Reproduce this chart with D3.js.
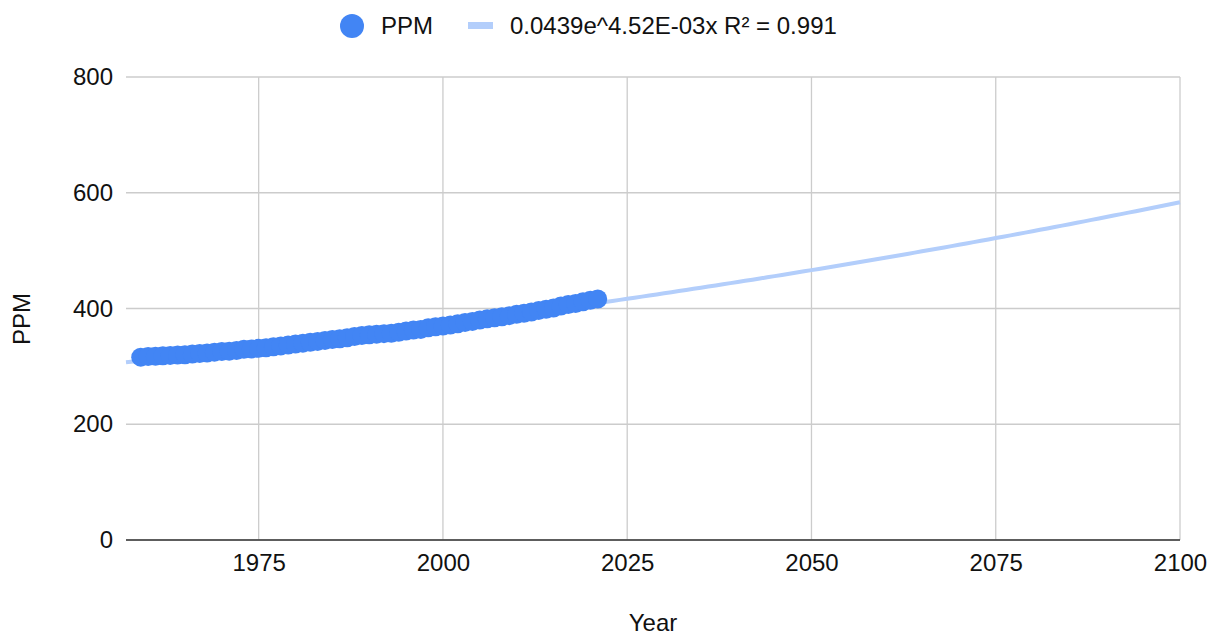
<!DOCTYPE html>
<html>
<head>
<meta charset="utf-8">
<script src="https://cdn.jsdelivr.net/npm/d3@7"></script>
<style>
  body { margin: 0; background: #fff; }
  text { font-family: "Liberation Sans", Arial, sans-serif; fill: #111; }
</style>
</head>
<body>
<div class="canvas"></div>
<script>
// annual mean CO2 (ppm)
const years = d3.range(1959, 2022);
const ppm = [
  315.98, 316.91, 317.64, 318.45, 318.99, 319.62, 320.04, 321.37, 322.18, 323.05,
  324.62, 325.68, 326.32, 327.46, 329.68, 330.19, 331.12, 332.03, 333.84, 335.41,
  336.84, 338.76, 340.12, 341.48, 343.15, 344.87, 346.35, 347.61, 349.31, 351.69,
  353.20, 354.45, 355.70, 356.54, 357.21, 358.96, 360.97, 362.74, 363.88, 366.84,
  368.54, 369.71, 371.32, 373.45, 375.98, 377.70, 379.98, 382.09, 384.02, 385.83,
  387.64, 390.10, 391.85, 394.06, 396.74, 398.81, 401.01, 404.41, 406.76, 408.72,
  411.66, 414.24, 416.45
];
const xTicks = [1975, 2000, 2025, 2050, 2075, 2100];
const yTicks = [0, 200, 400, 600, 800];
const seriesName = 'PPM';
const trendLabel = '0.0439e^4.52E-03x R² = 0.991';

const data = years.map((y, i) => ({ year: y, ppm: ppm[i] }));

const width = 1216, height = 637;
const margin = { top: 77, right: 36, bottom: 97, left: 126 };

const svg = d3.select('.canvas')
    .append('svg')
    .attr('width', width)
    .attr('height', height);

const x = d3.scaleLinear()
    .domain([1957, 2100])
    .range([margin.left, width - margin.right]);

const y = d3.scaleLinear()
    .domain([0, 800])
    .range([height - margin.bottom, margin.top]);

// gridlines
svg.append('g')
    .selectAll('line.h')
    .data(yTicks)
    .join('line')
    .attr('x1', x.range()[0]).attr('x2', x.range()[1])
    .attr('y1', d => y(d)).attr('y2', d => y(d))
    .attr('stroke', '#cccccc').attr('stroke-width', 1.3);

svg.append('g')
    .selectAll('line.v')
    .data(xTicks)
    .join('line')
    .attr('x1', d => x(d)).attr('x2', d => x(d))
    .attr('y1', y.range()[0]).attr('y2', y.range()[1])
    .attr('stroke', '#cccccc').attr('stroke-width', 1.3);

// baseline
svg.append('line')
    .attr('x1', x.range()[0]).attr('x2', x.range()[1])
    .attr('y1', y(0)).attr('y2', y(0))
    .attr('stroke', '#333').attr('stroke-width', 1.6);

// axes (labels only)
const yAxis = svg.append('g')
    .attr('transform', `translate(${margin.left - 13},0)`)
    .call(d3.axisLeft(y).tickValues(yTicks).tickSize(0).tickPadding(0));
yAxis.select('.domain').remove();
yAxis.selectAll('text')
    .attr('font-size', 24)
    .attr('font-family', '"Liberation Sans", Arial, sans-serif')
    .attr('fill', '#111');

const xAxis = svg.append('g')
    .attr('transform', `translate(0,${y(0) + 14})`)
    .call(d3.axisBottom(x).tickValues(xTicks).tickFormat(d3.format('d')).tickSize(0).tickPadding(0));
xAxis.select('.domain').remove();
xAxis.selectAll('text')
    .attr('font-size', 24)
    .attr('font-family', '"Liberation Sans", Arial, sans-serif')
    .attr('fill', '#111');

// exponential trendline, fitted on ln(ppm)
const mx = d3.mean(data, d => d.year);
const my = d3.mean(data, d => Math.log(d.ppm));
const b = d3.sum(data, d => (d.year - mx) * (Math.log(d.ppm) - my)) /
          d3.sum(data, d => (d.year - mx) ** 2);
const a = Math.exp(my - b * mx);
const trendPts = d3.range(x.domain()[0], x.domain()[1] + 0.5, 1).map(t => [t, a * Math.exp(b * t)]);

const line = d3.line()
    .x(d => x(d[0]))
    .y(d => y(d[1]));

svg.append('path')
    .datum(trendPts)
    .attr('d', line)
    .attr('fill', 'none')
    .attr('stroke', '#b3cefb')
    .attr('stroke-width', 4);

// points
svg.append('g')
    .selectAll('circle')
    .data(data)
    .join('circle')
    .attr('cx', d => x(d.year))
    .attr('cy', d => y(d.ppm))
    .attr('r', 9.5)
    .attr('fill', '#4285f4');

// axis titles
svg.append('text')
    .attr('x', (x.range()[0] + x.range()[1]) / 2)
    .attr('y', 631)
    .attr('text-anchor', 'middle')
    .attr('font-size', 24)
    .text('Year');

svg.append('text')
    .attr('transform', 'translate(30,319) rotate(-90)')
    .attr('text-anchor', 'middle')
    .attr('font-size', 24)
    .text('PPM');

// legend
const legend = svg.append('g');
legend.append('circle')
    .attr('cx', 352).attr('cy', 26).attr('r', 12)
    .attr('fill', '#4285f4');
legend.append('text')
    .attr('x', 381).attr('y', 34)
    .attr('font-size', 24)
    .text(seriesName);
legend.append('rect')
    .attr('x', 468).attr('y', 22).attr('width', 25).attr('height', 7)
    .attr('fill', '#b3cefb');
legend.append('text')
    .attr('x', 510).attr('y', 34)
    .attr('font-size', 24)
    .text(trendLabel);
</script>
</body>
</html>
